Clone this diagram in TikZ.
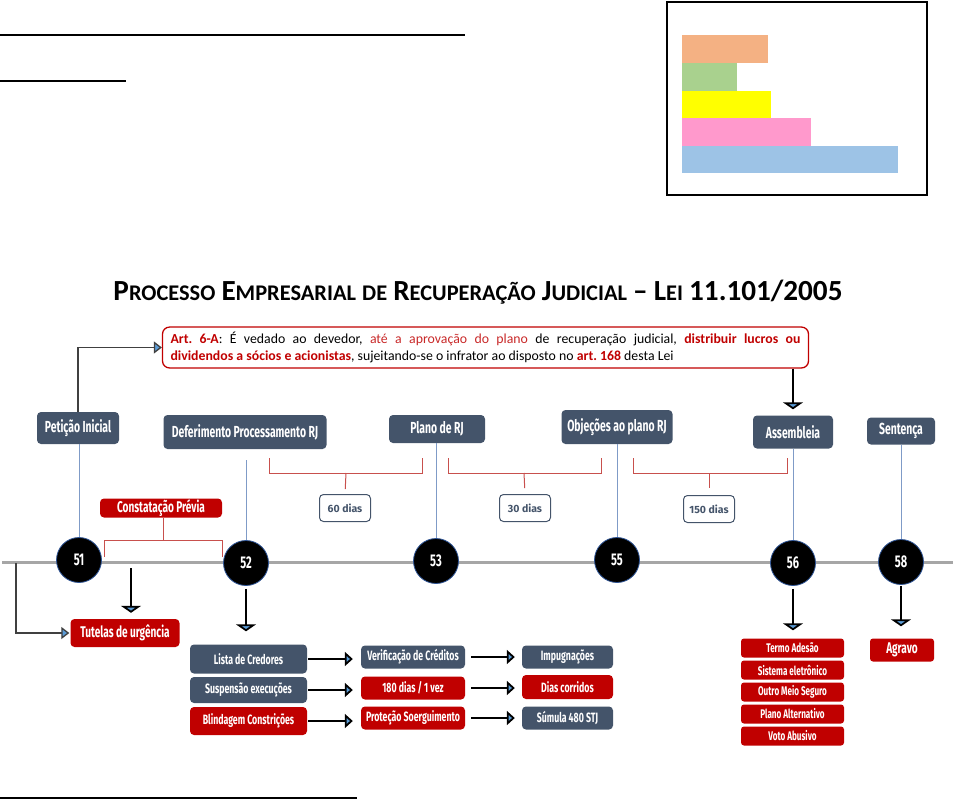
\documentclass[tikz,border=0pt]{standalone}
\usepackage{graphicx}
\usepackage{fontspec}
\setmainfont{Carlito}
\newfontfamily\condfont{Fira Sans}[FakeStretch=0.65]
\newfontfamily\tagfont{Fira Sans}
\usetikzlibrary{arrows.meta}
\frenchspacing
\definecolor{Slate}{RGB}{68,84,106}
\definecolor{BoxRed}{RGB}{192,0,0}
\definecolor{ArtRed}{RGB}{200,40,40}
\definecolor{BracketRed}{RGB}{200,80,77}
\definecolor{StemBlue}{RGB}{127,155,199}
\definecolor{TipBlue}{RGB}{91,155,213}
\definecolor{TimeGray}{RGB}{166,166,166}
\definecolor{DotRim}{RGB}{47,85,151}
\definecolor{DarkGray}{RGB}{64,64,64}
\definecolor{BarOrange}{RGB}{244,177,131}
\definecolor{BarGreen}{RGB}{169,209,142}
\definecolor{BarYellow}{RGB}{255,255,0}
\definecolor{BarPink}{RGB}{255,153,204}
\definecolor{BarBlue}{RGB}{157,195,230}
\newcommand\bigsc[2]{{\fontsize{28}{32}\selectfont #1}{\fontsize{21.5}{32}\selectfont #2}}

\begin{document}
\begin{tikzpicture}[
      x=1pt,y=-1pt,
      slateBox/.style={fill=Slate,text=white,rounded corners=4pt,inner sep=0pt,
                       font=\condfont\bfseries\fontsize{16}{18}\selectfont},
      redBox/.style={slateBox,fill=BoxRed},
      gridBox/.style={inner sep=0pt,rounded corners=4pt,text=white,
                      font=\condfont\bfseries\fontsize{13.5}{15}\selectfont},
      voteBox/.style={fill=BoxRed,text=white,rounded corners=3pt,inner sep=0pt,
                      minimum width=103pt,minimum height=19pt,
                      font=\condfont\bfseries\fontsize{12.5}{13}\selectfont},
      numDot/.style={circle,fill=black,draw=DotRim,line width=0.8pt,inner sep=0pt,
                     text=white,minimum size=45pt,
                     font=\condfont\bfseries\fontsize{17}{18}\selectfont},
      dayTag/.style={draw=Slate,fill=white,rounded corners=4pt,line width=1pt,
                     inner sep=0pt,minimum width=51pt,minimum height=27pt,text=Slate,
                     font=\tagfont\bfseries\fontsize{10.5}{12}\selectfont},
      artBox/.style={draw=BoxRed,line width=1.3pt,rounded corners=7pt,
                     text width=630pt,align=justify,inner xsep=8pt,inner ysep=5pt,
                     font=\fontsize{13.8}{17}\selectfont},
      stem/.style={StemBlue,line width=1pt},
      bracket/.style={BracketRed,line width=1pt},
      arDown/.style={-{Triangle[length=7pt,width=20pt,fill=TipBlue]},line width=1.8pt,black},
      arRight/.style={-{Triangle[length=8pt,width=14pt,fill=TipBlue]},line width=1.8pt,black},
      arThin/.style={-{Triangle[length=8pt,width=12pt,fill=TipBlue]},line width=1.3pt,DarkGray}
    ]
    \useasboundingbox (0,0) rectangle (955,801);

    % Header rules and legend
    \draw[line width=1.2pt] (0,35) -- (465,35);
    \draw[line width=1.2pt] (0,81) -- (126,81);
    \draw[line width=1.2pt] (0,798) -- (357,798);
    \draw[line width=2.5pt] (667,2) rectangle (927,195);
    \fill[BarOrange] (682,35) rectangle (768,63);
    \fill[BarGreen]  (682,63) rectangle (737,91);
    \fill[BarYellow] (682,91) rectangle (771,118);
    \fill[BarPink]   (682,118) rectangle (811,146);
    \fill[BarBlue]   (682,146) rectangle (898,173);

    % Title
    \node (title) at (478,292) {\resizebox{729pt}{!}{\fontsize{26}{32}\selectfont\bfseries
      \bigsc{P}{ROCESSO} \bigsc{E}{MPRESARIAL} \bigsc{}{DE} \bigsc{R}{ECUPERAÇÃO}
      \bigsc{J}{UDICIAL} \bigsc{–}{} \bigsc{L}{EI} \bigsc{11.101/2005}{}}};

    % Art. 6-A box
    \node (art) [artBox] at (485.5,347.5) {%
      \textcolor{BoxRed}{\textbf{Art. 6-A}}: É vedado ao devedor,
      \textcolor{ArtRed}{até a aprovação do plano} de recuperação judicial,
      \textcolor{BoxRed}{\textbf{distribuir lucros ou\linebreak dividendos a sócios e acionistas}},
      sujeitando-se o infrator ao disposto no \textcolor{BoxRed}{\textbf{art. 168}} desta Lei};

    % Stages
    \node (pet)  [slateBox,minimum width=82pt,minimum height=32pt]  at (78,428)  {Petição Inicial};
    \node (def)  [slateBox,minimum width=163pt,minimum height=34pt] at (245,432) {Deferimento Processamento RJ};
    \node (plan) [slateBox,minimum width=96pt,minimum height=28pt]  at (437,429) {Plano de RJ};
    \node (obj)  [slateBox,minimum width=111pt,minimum height=34pt] at (617,427) {Objeções ao plano RJ};
    \node (ass)  [slateBox,minimum width=80pt,minimum height=33pt]  at (793,432) {Assembleia};
    \node (sen)  [slateBox,minimum width=68pt,minimum height=27pt]  at (901,431) {Sentença};

    \draw[arThin] (pet.north) |- (art.west);
    \draw[arDown,shorten >=6pt] (art.south -| ass.north) -- (ass.north);

    % Deadlines
    \node (d60)  [dayTag] at (345,508) {60 dias};
    \node (d30)  [dayTag] at (525,508) {30 dias};
    \node (d150) [dayTag] at (709,509) {150 dias};
    \coordinate (b60)  at (346,473);
    \coordinate (b30)  at (524,473);
    \coordinate (b150) at (709,473);
    \draw[bracket] (269,458) |- (422,473) -- (422,458);
    \draw[bracket] (448,458) |- (601,473) -- (601,458);
    \draw[bracket] (633,458) |- (787,473) -- (787,458);
    \draw[bracket,shorten >=5pt] (b60) -- (d60.north);
    \draw[bracket,shorten >=6pt] (b30) -- (d30.north);
    \draw[bracket,shorten >=7pt] (b150) -- (d150.north);

    \node (cons) [redBox,minimum width=122pt,minimum height=19pt,
                  font=\condfont\bfseries\fontsize{15.5}{16}\selectfont] at (161,508) {Constatação Prévia};
    \coordinate (bcons) at (163,540);
    \draw[bracket] (cons.south -| bcons) -- (bcons);
    \draw[bracket] (104,557) |- (222,540) -- (222,557);

    % Timeline
    \draw[TimeGray,line width=3pt] (2,562) -- (953,562);
    \node (c51) [numDot] at (79,560)  {51};
    \node (c52) [numDot] at (246,563) {52};
    \node (c53) [numDot] at (436,561) {53};
    \node (c55) [numDot] at (617,560) {55};
    \node (c56) [numDot] at (793,563) {56};
    \node (c58) [numDot] at (901,562) {58};

    \draw[stem] (pet.south -| c51) -- (c51.north);
    \draw[stem,shorten <=11pt] (def.south -| c52) -- (c52.north);
    \draw[stem] (plan.south -| c53) -- (c53.north);
    \draw[stem] (obj.south -| c55) -- (c55.north);
    \draw[stem] (ass.south -| c56) -- (c56.north);
    \draw[stem] (sen.south -| c58) -- (c58.north);

    % Urgent relief
    \node (tut) [redBox,minimum width=109pt,minimum height=28pt,
                 font=\condfont\bfseries\fontsize{15.5}{16}\selectfont] at (125,633) {Tutelas de urgência};
    \coordinate (t0) at (16,563);
    \coordinate (a51) at (131,568);
    \draw[arThin,shorten >=1pt] (t0) |- (tut.west);
    \draw[arDown,shorten >=6pt] (a51) -- (a51 |- tut.north);

    % Effects of the processing
    \node (lista) [gridBox,fill=Slate,minimum width=117pt,minimum height=29pt] at (248.5,659) {Lista de Credores};
    \node (susp)  [gridBox,fill=Slate,minimum width=117pt,minimum height=26pt] at (248.5,690) {Suspensão execuções};
    \node (blind) [gridBox,fill=BoxRed,minimum width=117pt,minimum height=28pt] at (248.5,721) {Blindagem Constrições};
    \node (verif) [gridBox,fill=Slate,minimum width=104pt,minimum height=23pt] at (413,657) {Verificação de Créditos};
    \node (d180)  [gridBox,fill=BoxRed,minimum width=104pt,minimum height=23pt] at (413,688) {180 dias / 1 vez};
    \node (prot)  [gridBox,fill=BoxRed,minimum width=104pt,minimum height=23pt] at (413,718) {Proteção Soerguimento};
    \node (imp)   [gridBox,fill=Slate,minimum width=91pt,minimum height=23pt] at (567.5,657) {Impugnações};
    \node (dias)  [gridBox,fill=BoxRed,minimum width=91pt,minimum height=24pt] at (567.5,687) {Dias corridos};
    \node (sum)   [gridBox,fill=Slate,minimum width=91pt,minimum height=23pt] at (567.5,718) {Súmula 480 STJ};

    \draw[arDown,shorten <=3pt,shorten >=13pt] (c52.south) -- (c52.south |- lista.north);
    \draw[arRight,shorten <=1pt,shorten >=8pt] (lista.east) -- (lista.east -| verif.west);
    \draw[arRight,shorten <=1pt,shorten >=8pt] (susp.east) -- (susp.east -| d180.west);
    \draw[arRight,shorten <=1pt,shorten >=8pt] (blind.east) -- (blind.east -| prot.west);
    \draw[arRight,shorten <=6pt,shorten >=7pt] (verif.east) -- (verif.east -| imp.west);
    \draw[arRight,shorten <=6pt,shorten >=7pt] (d180.east) -- (d180.east -| dias.west);
    \draw[arRight,shorten <=6pt,shorten >=7pt] (prot.east) -- (prot.east -| sum.west);

    % Assembly and sentence
    \node (termo) [voteBox] at (792.5,648) {Termo Adesão};
    \node (sist)  [voteBox] at (792.5,670) {Sistema eletrônico};
    \node (outro) [voteBox] at (792.5,692) {Outro Meio Seguro};
    \node (alt)   [voteBox] at (792.5,714) {Plano Alternativo};
    \node (voto)  [voteBox] at (792.5,736) {Voto Abusivo};
    \node (agr)   [redBox,minimum width=64pt,minimum height=23pt,rounded corners=3pt,
                   font=\condfont\bfseries\fontsize{15.5}{16}\selectfont] at (902,650) {Agravo};
    \draw[arDown,shorten <=3pt,shorten >=8pt] (c56.south) -- (c56.south |- termo.north);
    \draw[arDown,shorten <=1pt,shorten >=12pt] (c58.south) -- (c58.south |- agr.north);
  \end{tikzpicture}
\end{document}
